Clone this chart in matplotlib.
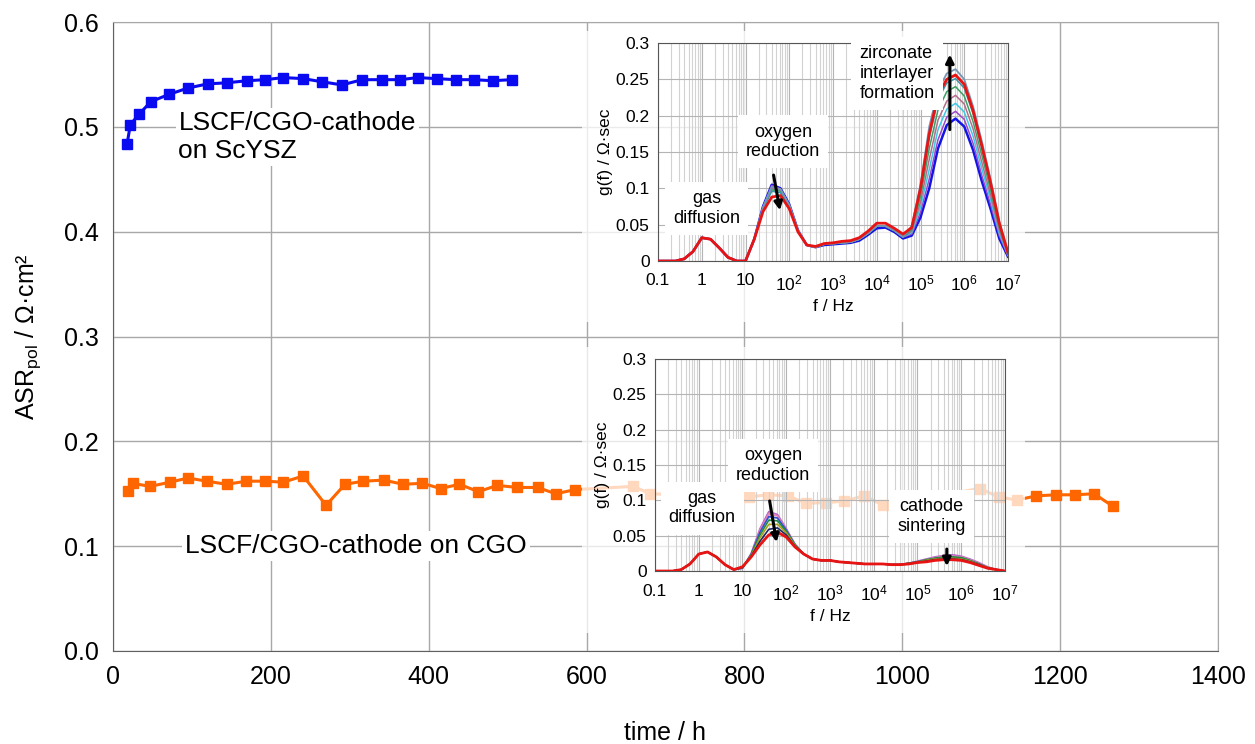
import numpy as np
import matplotlib
matplotlib.use('Agg')
import matplotlib.pyplot as plt
from matplotlib.patches import Rectangle
from matplotlib.ticker import LogLocator, NullFormatter

plt.rcParams['font.family'] = ['Liberation Sans', 'DejaVu Sans']
plt.rcParams['mathtext.fontset'] = 'custom'
plt.rcParams['mathtext.rm'] = 'Liberation Sans'
plt.rcParams['mathtext.it'] = 'Liberation Sans:italic'

# --- main chart: ASR_pol vs time ---
t_scysz = [18, 22, 33, 48, 71, 95, 120, 144, 170, 193, 216, 241, 265, 290, 316, 341,
           364, 386, 410, 434, 457, 481, 505]
asr_scysz = [0.484, 0.502, 0.512, 0.524, 0.531, 0.537, 0.541, 0.542, 0.544, 0.545, 0.547,
             0.546, 0.543, 0.540, 0.545, 0.545, 0.545, 0.547, 0.546, 0.545, 0.545, 0.544, 0.545]

t_cgo = [19, 25, 47, 72, 95, 119, 144, 169, 193, 216, 241, 270, 294, 317, 343, 368, 392,
         415, 439, 463, 487, 512, 538, 561, 586, 659, 681, 806, 830, 855, 878, 904, 926,
         952, 976, 1098, 1122, 1145, 1170, 1195, 1219, 1243, 1267]
asr_cgo = [0.153, 0.160, 0.157, 0.161, 0.165, 0.162, 0.159, 0.162, 0.162, 0.161, 0.167,
           0.139, 0.159, 0.162, 0.163, 0.159, 0.160, 0.155, 0.159, 0.152, 0.158, 0.156,
           0.156, 0.150, 0.154, 0.157, 0.150, 0.147, 0.149, 0.148, 0.141, 0.1415, 0.143,
           0.148, 0.139, 0.155, 0.147, 0.144, 0.148, 0.149, 0.149, 0.150, 0.138]

# --- insets: DRT spectra, log10(f) grid ---
f_log = [-1.0, -0.8, -0.6, -0.4, -0.2, 0.0, 0.2, 0.4, 0.6, 0.8, 1.0, 1.2, 1.4, 1.6, 1.8,
         2.0, 2.2, 2.4, 2.6, 2.8, 3.0, 3.2, 3.4, 3.6, 3.8, 4.0, 4.2, 4.4, 4.6, 4.8, 5.0,
         5.2, 5.4, 5.6, 5.8, 6.0, 6.2, 6.4, 6.6, 6.8, 7.0]
f_ticks = [0.1, 1, 10, 1e2, 1e3, 1e4, 1e5, 1e6, 1e7]
f_ticklabels = ['0.1', '1', '10', '$10^{2}$', '$10^{3}$', '$10^{4}$', '$10^{5}$',
                '$10^{6}$', '$10^{7}$']
g_ticks = [0, 0.05, 0.1, 0.15, 0.2, 0.25, 0.3]
g_ticklabels = ['0', '0.05', '0.1', '0.15', '0.2', '0.25', '0.3']

# top inset (ScYSZ): common part up to 10 Hz, then each curve from 10^1.2 Hz
scysz_low = [0, 0, 0, 0.003, 0.013, 0.032, 0.030, 0.018, 0.005, 0, 0]
scysz_blue = [.030, .075, .105, .100, .078, .042, .022, .019, .022, .023, .024, .025, .028,
              .036, .045, .046, .040, .031, .035, .060, .100, .155, .187, .196, .185, .153,
              .110, .072, .031, .006]
scysz_purple = [.030, .074, .104, .099, .077, .042, .022, .019, .023, .024, .025, .026, .030,
                .038, .048, .048, .042, .033, .037, .067, .113, .167, .198, .206, .195, .162,
                .118, .078, .035, .007]
scysz_cyan = [.030, .074, .102, .098, .077, .042, .022, .019, .023, .024, .025, .026, .030,
              .038, .048, .048, .042, .033, .039, .074, .126, .181, .209, .217, .205, .172,
              .127, .085, .038, .008]
scysz_mauve = [.030, .073, .100, .097, .076, .041, .022, .019, .023, .024, .025, .026, .030,
               .038, .048, .048, .042, .033, .041, .081, .140, .194, .220, .228, .216, .182,
               .136, .091, .042, .009]
scysz_green = [.030, .072, .098, .096, .076, .041, .022, .019, .023, .024, .025, .026, .030,
               .038, .048, .048, .042, .033, .043, .089, .155, .208, .233, .240, .227, .192,
               .146, .098, .046, .010]
scysz_teal = [.030, .071, .096, .094, .075, .041, .022, .019, .023, .024, .025, .026, .030,
              .038, .048, .048, .042, .033, .045, .097, .169, .222, .245, .251, .238, .203,
              .155, .105, .050, .011]
scysz_steel = [.030, .073, .102, .099, .077, .042, .022, .019, .023, .024, .025, .026, .030,
               .038, .048, .048, .042, .033, .048, .105, .185, .235, .258, .264, .250, .213,
               .165, .113, .055, .012]
scysz_red = [.030, .068, .088, .090, .072, .040, .022, .020, .024, .025, .027, .028, .032,
             .041, .052, .052, .045, .037, .046, .100, .175, .228, .250, .256, .243, .207,
             .159, .108, .052, .011]

# bottom inset (CGO): gas part, oxygen part, middle part, cathode part
cgo_gas = [0, 0, 0, 0.002, 0.010, 0.024, 0.027, 0.020, 0.009, 0.002]
cgo_mid = [0.015, 0.015, 0.013, 0.012, 0.011, 0.010, 0.010, 0.010, 0.009, 0.009]
oxy_purple = [0.004, 0.025, 0.060, 0.084, 0.080, 0.060, 0.038, 0.024, 0.017]
oxy_pink = [0.004, 0.024, 0.058, 0.081, 0.078, 0.059, 0.038, 0.024, 0.017]
oxy_blue = [0.004, 0.024, 0.055, 0.077, 0.075, 0.058, 0.037, 0.024, 0.017]
oxy_green = [0.005, 0.023, 0.051, 0.072, 0.071, 0.056, 0.037, 0.024, 0.017]
oxy_olive = [0.005, 0.022, 0.047, 0.066, 0.066, 0.054, 0.036, 0.024, 0.017]
oxy_navy = [0.005, 0.021, 0.042, 0.059, 0.061, 0.051, 0.035, 0.024, 0.017]
oxy_red = [0.006, 0.020, 0.037, 0.051, 0.055, 0.048, 0.034, 0.024, 0.017]
cat_purple = [0.011, 0.014, 0.017, 0.020, 0.022, 0.023, 0.021, 0.017, 0.012, 0.006, 0.002, 0.0]
cat_pink = [0.011, 0.013, 0.016, 0.019, 0.021, 0.021, 0.020, 0.016, 0.011, 0.006, 0.002, 0.0]
cat_blue = [0.011, 0.013, 0.015, 0.018, 0.019, 0.019, 0.018, 0.014, 0.010, 0.005, 0.002, 0.0]
cat_green = [0.011, 0.013, 0.016, 0.018, 0.020, 0.020, 0.019, 0.015, 0.010, 0.005, 0.002, 0.0]
cat_olive = [0.010, 0.012, 0.015, 0.017, 0.018, 0.018, 0.017, 0.014, 0.009, 0.005, 0.002, 0.0]
cat_navy = [0.010, 0.012, 0.014, 0.016, 0.017, 0.017, 0.016, 0.013, 0.009, 0.004, 0.002, 0.0]
cat_red = [0.010, 0.012, 0.013, 0.015, 0.016, 0.016, 0.015, 0.012, 0.008, 0.004, 0.002, 0.0]

freq = 10 ** np.array(f_log)

fig = plt.figure(figsize=(12.55, 7.44), dpi=100)
ax = fig.add_axes([0.090, 0.125, 0.8805, 0.8454])
ax.plot(t_cgo, asr_cgo, '-s', color='#ff6600', ms=7.5, lw=2.2, zorder=3)
ax.plot(t_scysz, asr_scysz, '-s', color='#0a0af0', ms=7.5, lw=2.2, zorder=3)
ax.set_xlim(0, 1400)
ax.set_ylim(0, 0.6)
ax.set_xticks(range(0, 1401, 200))
ax.set_yticks([0, 0.1, 0.2, 0.3, 0.4, 0.5, 0.6])
ax.set_yticklabels(['0.0', '0.1', '0.2', '0.3', '0.4', '0.5', '0.6'])
ax.grid(color='#a8a8a8', lw=1)
ax.set_axisbelow(True)
ax.tick_params(length=0, labelsize=18, pad=10)
for side in ['top', 'right']:
    ax.spines[side].set_color('#a8a8a8')
for side in ['left', 'bottom']:
    ax.spines[side].set_color('#606060')
ax.set_xlabel('time / h', fontsize=18)
ax.set_ylabel('ASR$_{\\mathrm{pol}}$ / Ω·cm²', fontsize=18)
ax.yaxis.set_label_coords(-0.063, 0.5)
ax.xaxis.set_label_coords(0.5, -0.112)

ax.text(83, 0.515, 'LSCF/CGO-cathode\non ScYSZ', fontsize=19, ha='left', va='top',
        linespacing=1.2, bbox=dict(fc='white', ec='none', pad=2), zorder=4)
ax.text(308, 0.100, 'LSCF/CGO-cathode on CGO', fontsize=19, ha='center', va='center',
        bbox=dict(fc='white', ec='none', pad=2), zorder=4)

# translucent white panels behind the insets
fig.add_artist(Rectangle((0.4637, 0.567), 0.353, 0.392, transform=fig.transFigure,
                         fc='white', ec='none', alpha=0.78, zorder=1))
fig.add_artist(Rectangle((0.4637, 0.149), 0.353, 0.384, transform=fig.transFigure,
                         fc='white', ec='none', alpha=0.75, zorder=1))


def style_inset(axi):
    axi.set_zorder(2)
    axi.set_facecolor('none')
    axi.set_xscale('log')
    axi.set_xlim(0.1, 1e7)
    axi.set_ylim(0, 0.3)
    axi.set_xticks(f_ticks)
    axi.set_xticklabels(f_ticklabels)
    axi.xaxis.set_minor_locator(LogLocator(base=10, subs=range(2, 10), numticks=20))
    axi.xaxis.set_minor_formatter(NullFormatter())
    axi.set_yticks(g_ticks)
    axi.set_yticklabels(g_ticklabels)
    axi.grid(which='major', color='#b4b4b4', lw=0.8)
    axi.grid(which='minor', axis='x', color='#d2d2d2', lw=0.8)
    axi.set_axisbelow(True)
    axi.tick_params(which='both', length=0, labelsize=12.5)
    axi.tick_params(axis='x', pad=9)
    axi.tick_params(axis='y', pad=6)
    for s in axi.spines.values():
        s.set_color('#555555')
    axi.set_xlabel('f / Hz', fontsize=12.5, labelpad=4)
    axi.set_ylabel('g(f) / Ω·sec', fontsize=12.5, labelpad=2)


box = dict(fc='white', ec='none', boxstyle='square,pad=0.45')

axt = fig.add_axes([0.5243, 0.6492, 0.2789, 0.293])
style_inset(axt)
top_curves = [(scysz_blue, '#1414e6', 1.8), (scysz_purple, '#9a4ac8', 1.1),
              (scysz_cyan, '#3cc8e6', 1.1), (scysz_mauve, '#b46e8c', 1.1),
              (scysz_green, '#3ca064', 1.1), (scysz_teal, '#3c96aa', 1.1),
              (scysz_steel, '#7896b4', 1.3), (scysz_red, '#e81414', 2.0)]
for vals, col, lw in top_curves:
    axt.plot(freq, scysz_low + vals, color=col, lw=lw, zorder=3)
axt.text(1.3, 0.072, 'gas\ndiffusion', fontsize=13, ha='center', va='center',
         bbox=box, zorder=5)
axt.text(72, 0.164, 'oxygen\nreduction', fontsize=13, ha='center', va='center',
         bbox=box, zorder=5)
axt.text(2.9e4, 0.258, 'zirconate\ninterlayer\nformation', fontsize=13, ha='center',
         va='center', multialignment='left', bbox=box, zorder=5, clip_on=False)
axt.annotate('', xy=(10 ** 1.80, 0.066), xytext=(10 ** 1.63, 0.122),
             arrowprops=dict(arrowstyle='-|>', color='k', lw=2.2, mutation_scale=12), zorder=6)
axt.annotate('', xy=(10 ** 5.67, 0.288), xytext=(10 ** 5.67, 0.177),
             arrowprops=dict(arrowstyle='-|>', color='k', lw=2.2, mutation_scale=12), zorder=6)

axb = fig.add_axes([0.5219, 0.2325, 0.2789, 0.285])
style_inset(axb)
bottom_curves = [(oxy_purple, cat_purple, '#b464c8', 1.2), (oxy_pink, cat_pink, '#e682b4', 1.2),
                 (oxy_blue, cat_blue, '#3250d2', 1.2), (oxy_green, cat_green, '#1e8c46', 1.2),
                 (oxy_olive, cat_olive, '#aaa01e', 1.2), (oxy_navy, cat_navy, '#1e2864', 1.2),
                 (oxy_red, cat_red, '#e81414', 2.0)]
for oxy, cat, col, lw in bottom_curves:
    axb.plot(freq, cgo_gas + oxy + cgo_mid + cat, color=col, lw=lw, zorder=3)
axb.text(1.2, 0.089, 'gas\ndiffusion', fontsize=13, ha='center', va='center',
         bbox=box, zorder=5)
axb.text(50, 0.149, 'oxygen\nreduction', fontsize=13, ha='center', va='center',
         bbox=box, zorder=5)
axb.text(10 ** 5.32, 0.077, 'cathode\nsintering', fontsize=13, ha='center', va='center',
         bbox=box, zorder=5)
axb.annotate('', xy=(10 ** 1.79, 0.037), xytext=(10 ** 1.61, 0.103),
             arrowprops=dict(arrowstyle='-|>', color='k', lw=2.2, mutation_scale=12), zorder=6)
axb.annotate('', xy=(10 ** 5.67, 0.003), xytext=(10 ** 5.67, 0.035),
             arrowprops=dict(arrowstyle='-|>', color='k', lw=2.2, mutation_scale=12), zorder=6)

fig.savefig('out.png', dpi=100)
